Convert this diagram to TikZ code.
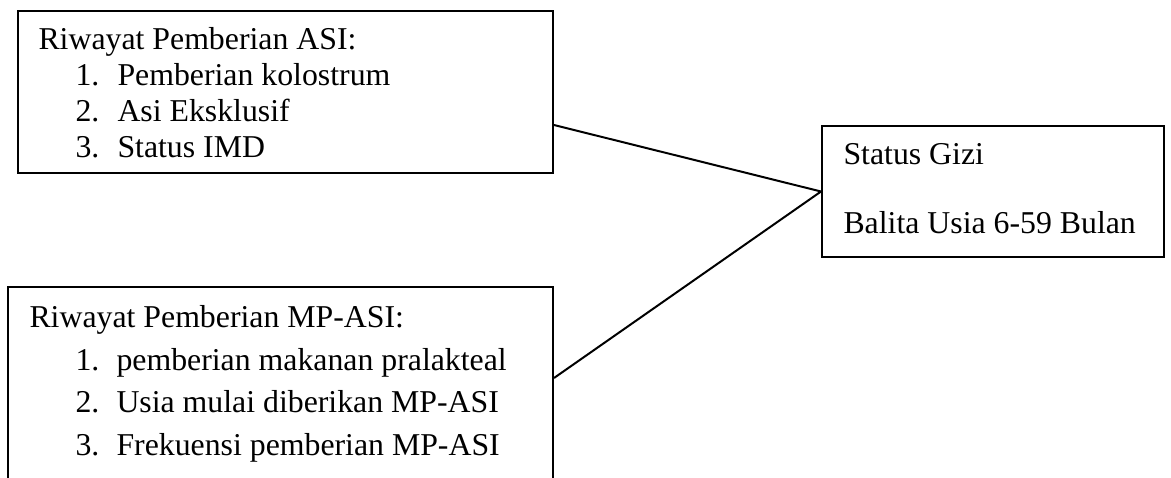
\documentclass[tikz,border=0pt]{standalone}
\usepackage{fontspec}
\setmainfont{Liberation Serif}
\newlength{\unitpx}
\setlength{\unitpx}{0.3774pt}
\tikzset{
  kotak/.style={draw, line width=0.75pt, anchor=north west, inner sep=0pt},
  isi/.style={anchor=base west, inner sep=0pt, align=left},
  garis/.style={line width=0.75pt},
}

\begin{document}
\begin{tikzpicture}[x=\unitpx, y=-\unitpx]

\useasboundingbox (0,0) rectangle (1171,477);
\clip (0,0) rectangle (1171,477);

% kotak ASI
\node[kotak, minimum width=535*\unitpx, minimum height=162*\unitpx] (asi) at (17,10) {};
\node[isi, font=\fontsize{12}{13.5}\selectfont] (asiisi) at (38,157) {Riwayat Pemberian ASI:\\
\hspace*{37\unitpx}\makebox[42\unitpx][l]{1.}Pemberian kolostrum\\
\hspace*{37\unitpx}\makebox[42\unitpx][l]{2.}Asi Eksklusif\\
\hspace*{37\unitpx}\makebox[42\unitpx][l]{3.}Status IMD};

% kotak MP-ASI
\node[kotak, minimum width=545*\unitpx, minimum height=230*\unitpx] (mpasi) at (7,286) {};
\node[isi, font=\fontsize{12}{16}\selectfont] (mpasiisi) at (29,455) {Riwayat Pemberian MP-ASI:\\
\hspace*{46\unitpx}\makebox[41\unitpx][l]{1.}pemberian makanan pralakteal\\
\hspace*{46\unitpx}\makebox[41\unitpx][l]{2.}Usia mulai diberikan MP-ASI\\
\hspace*{46\unitpx}\makebox[41\unitpx][l]{3.}Frekuensi pemberian MP-ASI};

% kotak status gizi
\node[kotak, minimum width=342*\unitpx, minimum height=131*\unitpx] (gizi) at (821,125) {};
\node[isi, font=\fontsize{12}{25.7}\selectfont] (giziisi) at (843,233) {Status Gizi\\
Balita Usia 6-59 Bulan};

\draw[garis] ([yshift=-115*\unitpx]asi.north east) -- (gizi.west);
\draw[garis] ([yshift=-92*\unitpx]mpasi.north east) -- (gizi.west);

\end{tikzpicture}
\end{document}
